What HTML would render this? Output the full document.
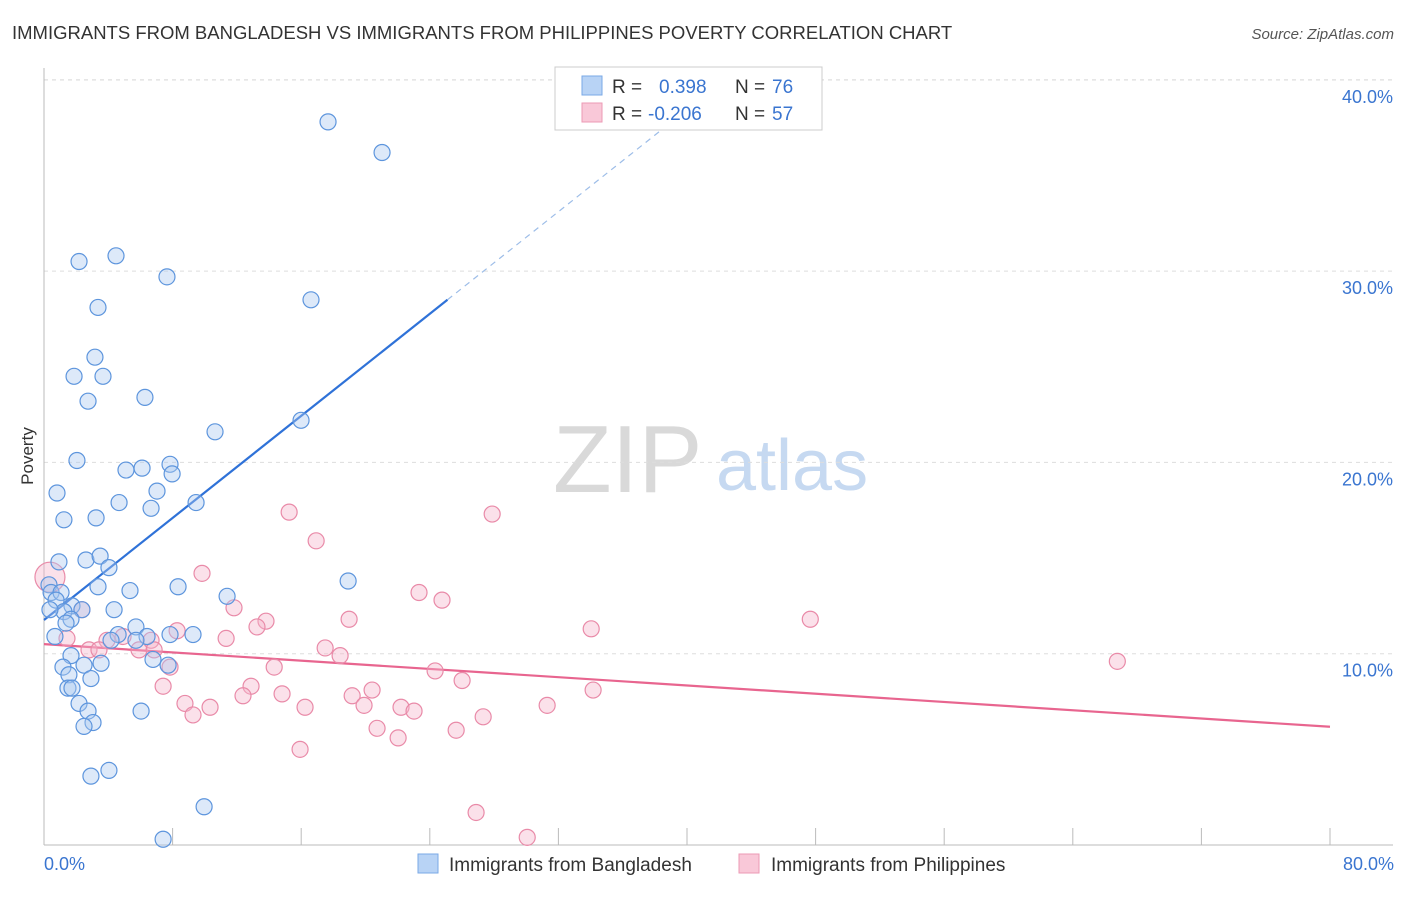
<!DOCTYPE html>
<html><head><meta charset="utf-8"><style>
body{margin:0;background:#fff;font-family:"Liberation Sans",sans-serif;}
svg text{font-family:"Liberation Sans",sans-serif;}
</style></head><body>
<svg id="chart" width="1406" height="892" viewBox="0 0 1406 892" xmlns="http://www.w3.org/2000/svg">
<text x="12" y="39" font-size="18.5" fill="#333">IMMIGRANTS FROM BANGLADESH VS IMMIGRANTS FROM PHILIPPINES POVERTY CORRELATION CHART</text>
<text x="1394" y="39" font-size="15" fill="#555" font-style="italic" text-anchor="end">Source: ZipAtlas.com</text>
<g>
<text x="553" y="492" font-size="96" fill="#d9d9d9" font-family="Liberation Serif, serif">ZIP</text>
<text x="716" y="490" font-size="72" fill="#c6d9f1">atlas</text>
</g>
<g id="grid"></g>
<g id="axes"></g>
<g id="trend"></g>
<g id="points"></g>
<text transform="translate(33,456) rotate(-90)" font-size="17" fill="#333" text-anchor="middle">Poverty</text>
<text x="44" y="870" font-size="18" fill="#3a75d0">0.0%</text>
<text x="1394" y="870" font-size="18" fill="#3a75d0" text-anchor="end">80.0%</text>
<g>
<rect x="555" y="67" width="267" height="63" fill="#fff" stroke="#ccc"/>
<rect x="582" y="76" width="20" height="19" fill="#b8d3f5" stroke="#7aa8e6"/>
<rect x="582" y="103" width="20" height="19" fill="#f9c8d8" stroke="#ec9ab5"/>
<text x="612" y="93" font-size="19" fill="#333">R =</text>
<text x="659" y="93" font-size="19" fill="#3a75d0">0.398</text>
<text x="735" y="93" font-size="19" fill="#333">N =</text>
<text x="772" y="93" font-size="19" fill="#3a75d0">76</text>
<text x="612" y="120" font-size="19" fill="#333">R =</text>
<text x="648" y="120" font-size="19" fill="#3a75d0">-0.206</text>
<text x="735" y="120" font-size="19" fill="#333">N =</text>
<text x="772" y="120" font-size="19" fill="#3a75d0">57</text>
</g>
<g>
<rect x="418" y="854" width="20" height="19" fill="#b8d3f5" stroke="#7aa8e6"/>
<text x="449" y="871" font-size="19" fill="#333">Immigrants from Bangladesh</text>
<rect x="739" y="854" width="20" height="19" fill="#f9c8d8" stroke="#ec9ab5"/>
<text x="771" y="871" font-size="19" fill="#333">Immigrants from Philippines</text>
</g>
</svg>
<script>
const yTicks=[10,20,30,40];
const yTickLabels=["10.0%","20.0%","30.0%","40.0%"];
const xTicks=[0,8,16,24,32,40,48,56,64,72,80];
const bangX=[17.67,21.03,4.48,2.18,7.65,16.61,3.36,3.17,1.87,3.67,2.74,6.28,10.64,15.99,2.05,5.10,6.10,7.84,7.97,0.81,7.03,4.67,9.46,6.66,1.24,3.24,0.93,2.61,3.49,4.04,18.92,8.34,3.36,5.35,11.39,0.31,0.44,1.06,0.75,1.74,4.36,1.24,2.36,0.37,1.68,1.37,5.72,4.61,6.41,7.84,9.27,4.17,0.68,5.72,1.68,6.78,3.55,1.18,2.49,7.72,1.55,2.92,1.49,1.74,2.18,2.74,6.04,3.05,2.49,4.04,2.92,9.96,7.41];
const bangY=[37.8,36.2,30.8,30.5,29.7,28.5,28.1,25.5,24.5,24.5,23.2,23.4,21.6,22.2,20.1,19.6,19.7,19.9,19.4,18.4,18.5,17.9,17.9,17.6,17.0,17.1,14.8,14.9,15.1,14.5,13.8,13.5,13.5,13.3,13.0,13.6,13.2,13.2,12.8,12.5,12.3,12.2,12.3,12.3,11.8,11.6,11.4,11.0,10.9,11.0,11.0,10.7,10.9,10.7,9.9,9.7,9.5,9.3,9.4,9.4,8.9,8.7,8.2,8.2,7.4,7.0,7.0,6.4,6.2,3.9,3.6,2.0,0.3];
const philX=[0.37,15.25,27.88,16.93,9.83,23.33,24.76,11.82,18.98,13.81,47.67,34.04,13.25,8.28,2.36,1.43,11.33,4.92,3.92,6.66,2.80,3.42,5.91,6.85,17.49,18.42,66.77,14.32,24.33,7.84,26.01,12.88,7.41,20.41,34.16,14.81,12.38,19.17,8.77,19.91,10.33,16.24,31.30,22.21,23.02,9.27,27.32,20.72,25.64,22.03,15.93,26.88,30.06];
const philY=[14.0,17.4,17.3,15.9,14.2,13.2,12.8,12.4,11.8,11.7,11.8,11.3,11.4,11.2,12.3,10.8,10.8,10.9,10.7,10.7,10.2,10.2,10.2,10.2,10.3,9.9,9.6,9.3,9.1,9.3,8.6,8.3,8.3,8.1,8.1,7.9,7.8,7.8,7.4,7.3,7.2,7.2,7.3,7.2,7.0,6.8,6.7,6.1,6.0,5.6,5.0,1.7,0.4];
const bangTrend=[11.76,0.667];
const philTrend=[10.5,-0.054];
{
const NS="http://www.w3.org/2000/svg";
const X=v=>44+v*16.075;
const Y=v=>845-v*19.13;
function mk(tag,attrs,parent){const e=document.createElementNS(NS,tag);for(const k in attrs)e.setAttribute(k,attrs[k]);document.getElementById(parent).appendChild(e);return e;}
yTicks.forEach((t,i)=>{
 const g=mk('line',{x1:44,x2:1393,y1:Y(t),y2:Y(t),stroke:'#ddd','stroke-dasharray':'4,4'},'grid');
 
 
 const l=mk('text',{x:1393,y:Y(t)+23,'font-size':18,fill:'#3a75d0','text-anchor':'end'},'grid');
 l.textContent=yTickLabels[i];
 
 
});
const topGrid=mk('line',{x1:44,x2:1393,y1:80,y2:80,stroke:'#ddd','stroke-dasharray':'4,4'},'grid');


const ya=mk('line',{x1:44,x2:44,y1:68,y2:845,stroke:'#bbb'},'axes');


const xa=mk('line',{x1:44,x2:1393,y1:845,y2:845,stroke:'#bbb'},'axes');


xTicks.forEach(t=>{
 const k=mk('line',{x1:X(t),x2:X(t),y1:828,y2:845,stroke:'#bbb'},'axes');
 
 
});
const bEnd=25.1,bDash=39.6;
const b1=mk('line',{x1:X(0),y1:Y(bangTrend[0]),x2:X(bEnd),y2:Y(bangTrend[0]+bangTrend[1]*bEnd),stroke:'#2f72d8','stroke-width':2.2},'trend');


const b2=mk('line',{x1:X(bEnd),y1:Y(bangTrend[0]+bangTrend[1]*bEnd),x2:X(bDash),y2:Y(bangTrend[0]+bangTrend[1]*bDash),stroke:'#9dbde8','stroke-width':1.2,'stroke-dasharray':'6,5'},'trend');


const p1=mk('line',{x1:X(0),y1:Y(philTrend[0]),x2:X(80),y2:Y(philTrend[0]+philTrend[1]*80),stroke:'#e8658f','stroke-width':2.2},'trend');


philX.forEach((x,i)=>{
 const c=mk('circle',{cx:X(x),cy:Y(philY[i]),r:i===0?15:8,fill:'#f5b5ca','fill-opacity':0.4,stroke:'#e98aa8','stroke-width':1.2},'points');
 
 
});
bangX.forEach((x,i)=>{
 const c=mk('circle',{cx:X(x),cy:Y(bangY[i]),r:8,fill:'#a9c8f0','fill-opacity':0.4,stroke:'#5d95dd','stroke-width':1.2},'points');
 
 
});
}
</script>
</body></html>
